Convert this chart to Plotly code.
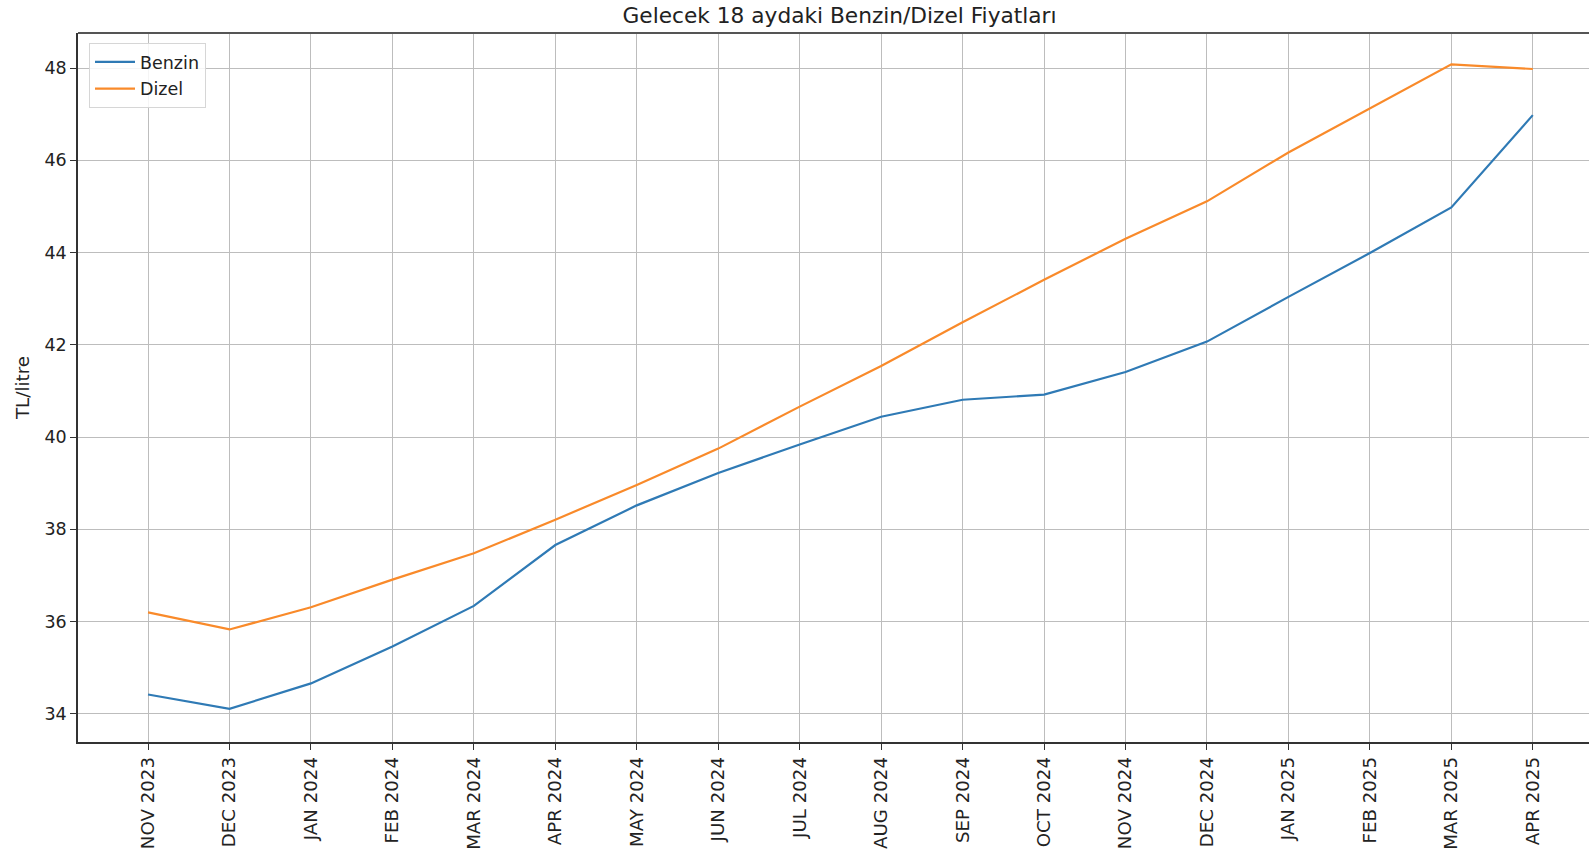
import plotly.graph_objects as go

months = ["NOV 2023", "DEC 2023", "JAN 2024", "FEB 2024", "MAR 2024", "APR 2024",
          "MAY 2024", "JUN 2024", "JUL 2024", "AUG 2024", "SEP 2024", "OCT 2024",
          "NOV 2024", "DEC 2024", "JAN 2025", "FEB 2025", "MAR 2025", "APR 2025"]
benzin = [34.42, 34.11, 34.66, 35.46, 36.34, 37.66, 38.52, 39.22, 39.84, 40.44,
          40.81, 40.92, 41.41, 42.07, 43.04, 43.99, 44.98, 46.98]
dizel = [36.20, 35.83, 36.31, 36.91, 37.48, 38.21, 38.96, 39.75, 40.66, 41.54,
         42.49, 43.41, 44.30, 45.11, 46.17, 47.12, 48.08, 47.98]
y_ticks = [34, 36, 38, 40, 42, 44, 46, 48]

FONT = "DejaVu Sans"
W, H = 1589, 853
ML, MT, MB = 78, 33, 111
PH = H - MT - MB

fig = go.Figure()
fig.add_trace(go.Scatter(x=list(range(len(months))), y=benzin, mode="lines", name="Benzin",
                         legendgroup="b",
                         line=dict(color="#2f7ab5", width=2.2)))
fig.add_trace(go.Scatter(x=list(range(len(months))), y=dizel, mode="lines", name="Dizel",
                         legendgroup="d",
                         line=dict(color="#f98a2a", width=2.2)))

fig.update_layout(
    width=W, height=H,
    margin=dict(l=ML, r=0, t=MT, b=MB, autoexpand=False),
    paper_bgcolor="white", plot_bgcolor="white",
    font=dict(family=FONT, size=18, color="#222"),
    title=dict(text="Gelecek 18 aydaki Benzin/Dizel Fiyatları", x=0.504, xanchor="center",
               xref="paper", y=1 - 15.5 / H, yanchor="middle",
               font=dict(size=21.7, color="#222")),
    showlegend=True,
    legend=dict(x=(89 - ML) / (W - ML), y=1 - (43 - MT) / PH, xanchor="left", yanchor="top",
                bgcolor="rgba(255,255,255,0.85)", bordercolor="#d6d6d6", borderwidth=1,
                font=dict(size=17.5), tracegroupgap=1, itemwidth=40),
    xaxis=dict(
        range=[-0.86, 17.69], automargin=False,
        tickmode="array", tickvals=list(range(len(months))), ticktext=months,
        tickangle=-90, ticks="outside", ticklen=6, tickcolor="#333",
        showgrid=True, gridcolor="#bdbdbd", gridwidth=1.3,
        showline=True, linecolor="#333", linewidth=1.5,
        zeroline=False, tickfont=dict(size=18.2),
    ),
    yaxis=dict(
        range=[33.39, 48.76], automargin=False,
        tickmode="array", tickvals=y_ticks,
        ticks="outside", ticklen=6, tickcolor="#333",
        showgrid=True, gridcolor="#bdbdbd", gridwidth=1.3,
        showline=True, linecolor="#333", linewidth=1.5,
        zeroline=False, tickfont=dict(size=17.5),
        title=dict(text="TL/litre", font=dict(size=18.3), standoff=10),
    ),
    shapes=[dict(type="line", xref="paper", yref="paper", x0=0, x1=1, y0=1, y1=1,
                 line=dict(color="#555", width=2))],
)

fig.write_html("out.html",
               config={"displayModeBar": False},
               post_script="document.body.style.margin='0';document.body.style.overflow='hidden';")
